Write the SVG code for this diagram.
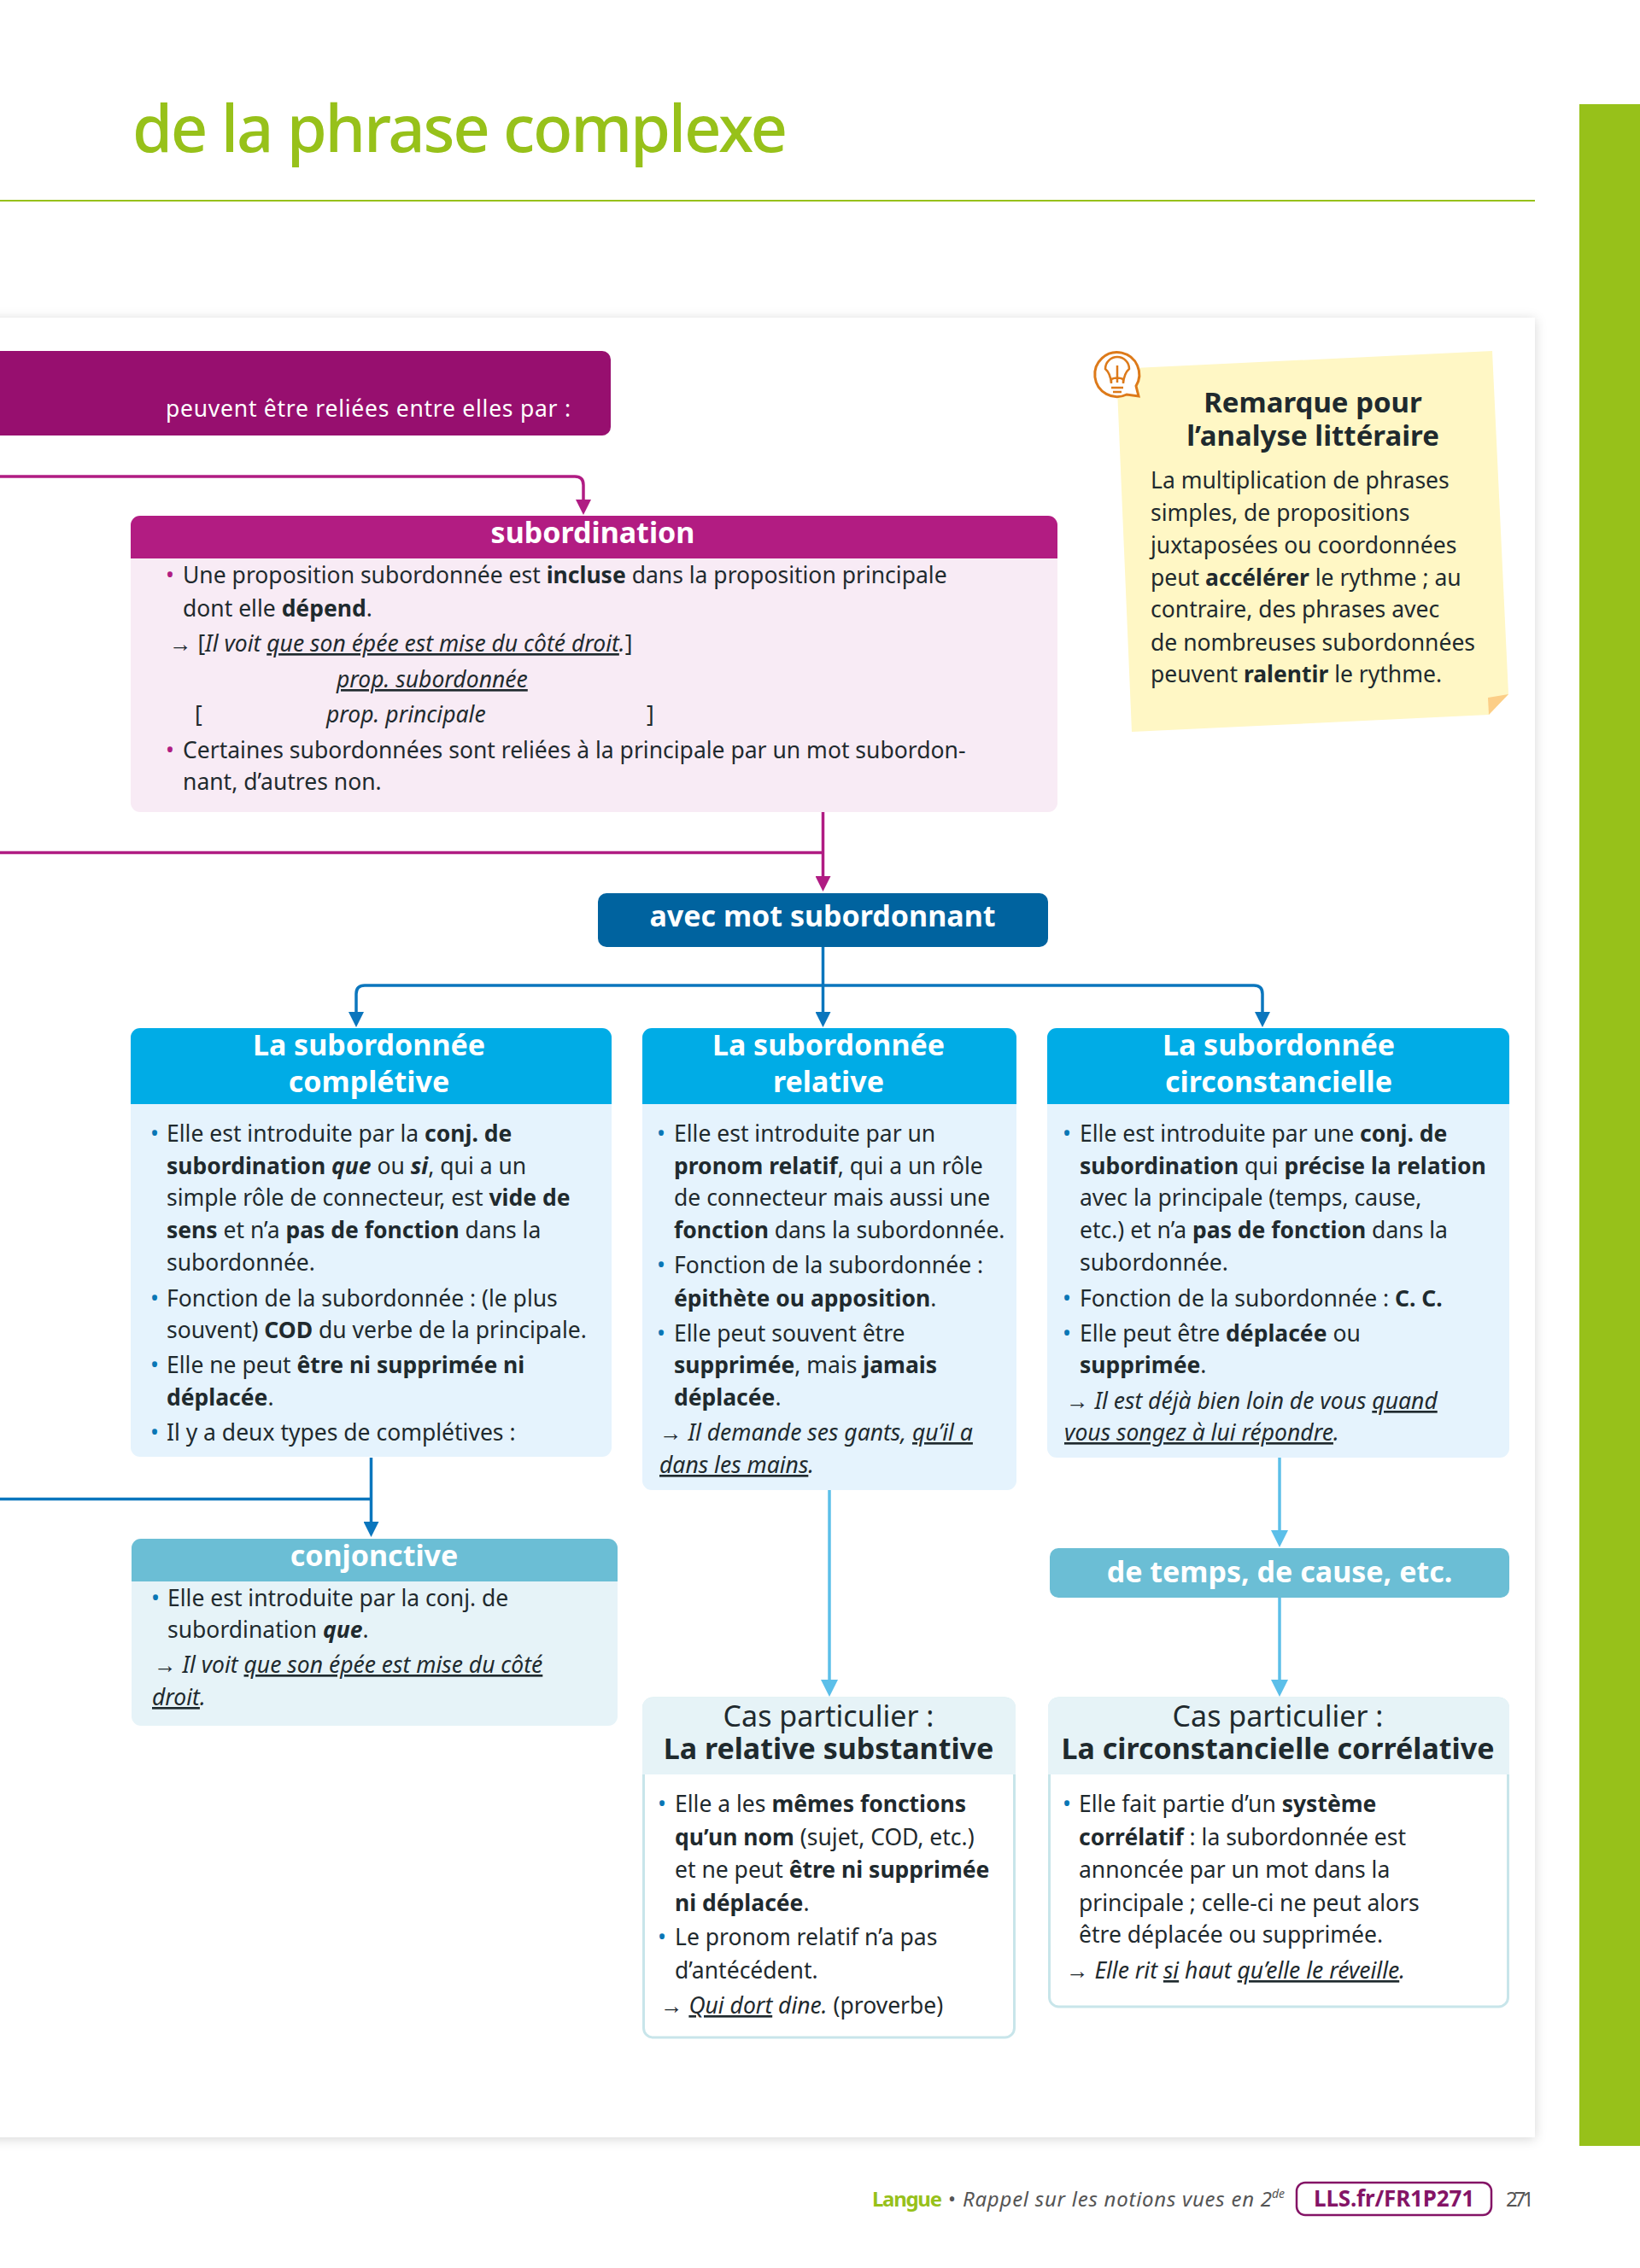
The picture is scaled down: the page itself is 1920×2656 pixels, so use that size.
<svg xmlns="http://www.w3.org/2000/svg" width="1920" height="2656" viewBox="0 0 1920 2656">
<style>
text{font-family:"Noto Sans","Liberation Sans",sans-serif;font-size:26.5px;fill:#1f2a2e}
b,.s{font-weight:700}
.i{font-style:italic}
.u{text-decoration:underline}
.h{font-size:34px;font-weight:700;fill:#fff;text-anchor:middle}
.bp{fill:#b01c83}.bb{fill:#0a76b5}
.c{fill:none;stroke-width:3.5}
.cas{font-size:34px;text-anchor:middle}
</style>
<defs>
<filter id="sh" x="-5%" y="-5%" width="110%" height="110%"><feDropShadow dx="0" dy="2" stdDeviation="7" flood-color="#000" flood-opacity=".16"/></filter>
<marker id="am" markerUnits="userSpaceOnUse" markerWidth="18" markerHeight="18" refX="1" refY="9" orient="auto"><path d="M0 0L18 9L0 18z" fill="#b01c83"/></marker>
<marker id="ab" markerUnits="userSpaceOnUse" markerWidth="18" markerHeight="18" refX="1" refY="9" orient="auto"><path d="M0 0L18 9L0 18z" fill="#0b76bd"/></marker>
<marker id="al" markerUnits="userSpaceOnUse" markerWidth="20" markerHeight="20" refX="1" refY="10" orient="auto"><path d="M0 0L20 10L0 20z" fill="#5cbfe9"/></marker>
</defs>
<rect width="1920" height="2656" fill="#fff"/>
<rect x="1849" y="122" width="71" height="2391" fill="#97c11a"/>
<text x="155" y="178" style="font-size:76px;fill:#97c11a;font-weight:500" textLength="767">de la phrase complexe</text>
<rect x="0" y="234" width="1797" height="2" fill="#97c11a"/>
<rect x="-30" y="372" width="1827" height="2131" fill="#fff" filter="url(#sh)"/>

<g id="connectors">
<path class="c" stroke="#b01c83" d="M0 558H673Q683 558 683 568V586" marker-end="url(#am)"/>
<path class="c" stroke="#b01c83" d="M0 998.500H963.500"/>
<path class="c" stroke="#b01c83" d="M963.500 951V1027" marker-end="url(#am)"/>
<path class="c" stroke="#0b76bd" d="M963.500 1109V1186" marker-end="url(#ab)"/>
<path class="c" stroke="#0b76bd" d="M963.500 1154H427Q417 1154 417 1164V1186" marker-end="url(#ab)"/>
<path class="c" stroke="#0b76bd" d="M963.500 1154H1468Q1478 1154 1478 1164V1186" marker-end="url(#ab)"/>
<path class="c" stroke="#0b76bd" d="M434.500 1707V1783" marker-end="url(#ab)"/>
<path class="c" stroke="#0b76bd" d="M0 1755.500H434"/>
<path class="c" stroke="#5cbfe9" d="M971 1745V1968" marker-end="url(#al)"/>
<path class="c" stroke="#5cbfe9" d="M1498 1707V1793" marker-end="url(#al)"/>
<path class="c" stroke="#5cbfe9" d="M1498 1871V1968" marker-end="url(#al)"/>
</g>

<g id="relier">
<path d="M-10 411H705a10 10 0 0 1 10 10V500a10 10 0 0 1-10 10H-10z" fill="#970f6f"/>
<text x="194" y="488" style="fill:#fff" textLength="474">peuvent être reliées entre elles par :</text>
</g>

<g id="subordination">
<rect x="153" y="604" width="1085" height="347" rx="11" fill="#f8ebf5"/>
<path d="M153 654V615a11 11 0 0 1 11-11H1227a11 11 0 0 1 11 11V654z" fill="#b21c82"/>
<text class="h" x="694" y="636">subordination</text>
<text class="bp" x="194" y="683">•</text>
<text x="214" y="683">Une proposition subordonnée est <tspan class="s">incluse</tspan> dans la proposition principale</text>
<text x="214" y="722">dont elle <tspan class="s">dépend</tspan>.</text>
<text x="198" y="763">→ [<tspan class="i">Il voit <tspan class="u">que son épée est mise du côté droit</tspan>.</tspan>]</text>
<text x="394" y="805" class="i u">prop. subordonnée</text>
<text x="228" y="846">[</text>
<text x="382" y="846" class="i">prop. principale</text>
<text x="757" y="846">]</text>
<text class="bp" x="194" y="888">•</text>
<text x="214" y="888">Certaines subordonnées sont reliées à la principale par un mot subordon-</text>
<text x="214" y="925">nant, d’autres non.</text>
</g>

<g id="mot">
<rect x="700" y="1046" width="527" height="63" rx="10" fill="#00639f"/>
<text class="h" x="963" y="1085">avec mot subordonnant</text>
</g>

<g id="completive">
<rect x="153" y="1204" width="563" height="502" rx="11" fill="#e5f3fd"/>
<path d="M153 1293V1215a11 11 0 0 1 11-11H705a11 11 0 0 1 11 11V1293z" fill="#00ace6"/>
<text class="h" x="432" y="1236">La subordonnée</text>
<text class="h" x="432" y="1279">complétive</text>
<text class="bb" x="176" y="1337">•</text><text x="195" y="1337">Elle est introduite par la <tspan class="s">conj. de</tspan></text>
<text x="195" y="1375"><tspan class="s">subordination <tspan class="i">que</tspan></tspan> ou <tspan class="s i">si</tspan>, qui a un</text>
<text x="195" y="1412">simple rôle de connecteur, est <tspan class="s">vide de</tspan></text>
<text x="195" y="1450"><tspan class="s">sens</tspan> et n’a <tspan class="s">pas de fonction</tspan> dans la</text>
<text x="195" y="1488">subordonnée.</text>
<text class="bb" x="176" y="1530">•</text><text x="195" y="1530">Fonction de la subordonnée : (le plus</text>
<text x="195" y="1567">souvent) <tspan class="s">COD</tspan> du verbe de la principale.</text>
<text class="bb" x="176" y="1608">•</text><text x="195" y="1608">Elle ne peut <tspan class="s">être ni supprimée ni</tspan></text>
<text x="195" y="1646"><tspan class="s">déplacée</tspan>.</text>
<text class="bb" x="176" y="1687">•</text><text x="195" y="1687">Il y a deux types de complétives :</text>
</g>

<g id="relative">
<rect x="752" y="1204" width="438" height="541" rx="11" fill="#e5f3fd"/>
<path d="M752 1293V1215a11 11 0 0 1 11-11H1179a11 11 0 0 1 11 11V1293z" fill="#00ace6"/>
<text class="h" x="970" y="1236">La subordonnée</text>
<text class="h" x="970" y="1279">relative</text>
<text class="bb" x="769" y="1337">•</text><text x="789" y="1337">Elle est introduite par un</text>
<text x="789" y="1375"><tspan class="s">pronom relatif</tspan>, qui a un rôle</text>
<text x="789" y="1412">de connecteur mais aussi une</text>
<text x="789" y="1450"><tspan class="s">fonction</tspan> dans la subordonnée.</text>
<text class="bb" x="769" y="1491">•</text><text x="789" y="1491">Fonction de la subordonnée :</text>
<text x="789" y="1530"><tspan class="s">épithète ou apposition</tspan>.</text>
<text class="bb" x="769" y="1571">•</text><text x="789" y="1571">Elle peut souvent être</text>
<text x="789" y="1608"><tspan class="s">supprimée</tspan>, mais <tspan class="s">jamais</tspan></text>
<text x="789" y="1646"><tspan class="s">déplacée</tspan>.</text>
<text x="772" y="1687">→ <tspan class="i">Il demande ses gants, <tspan class="u">qu’il a</tspan></tspan></text>
<text x="772" y="1725" class="i"><tspan class="u">dans les mains</tspan>.</text>
</g>

<g id="circonstancielle">
<rect x="1226" y="1204" width="541" height="503" rx="11" fill="#e5f3fd"/>
<path d="M1226 1293V1215a11 11 0 0 1 11-11H1756a11 11 0 0 1 11 11V1293z" fill="#00ace6"/>
<text class="h" x="1497" y="1236">La subordonnée</text>
<text class="h" x="1497" y="1279">circonstancielle</text>
<text class="bb" x="1244" y="1337">•</text><text x="1264" y="1337">Elle est introduite par une <tspan class="s">conj. de</tspan></text>
<text x="1264" y="1375"><tspan class="s">subordination</tspan> qui <tspan class="s">précise la relation</tspan></text>
<text x="1264" y="1412">avec la principale (temps, cause,</text>
<text x="1264" y="1450">etc.) et n’a <tspan class="s">pas de fonction</tspan> dans la</text>
<text x="1264" y="1488">subordonnée.</text>
<text class="bb" x="1244" y="1530">•</text><text x="1264" y="1530">Fonction de la subordonnée : <tspan class="s">C. C.</tspan></text>
<text class="bb" x="1244" y="1571">•</text><text x="1264" y="1571">Elle peut être <tspan class="s">déplacée</tspan> ou</text>
<text x="1264" y="1608"><tspan class="s">supprimée</tspan>.</text>
<text x="1248" y="1650">→ <tspan class="i">Il est déjà bien loin de vous <tspan class="u">quand</tspan></tspan></text>
<text x="1246" y="1687" class="i"><tspan class="u">vous songez à lui répondre</tspan>.</text>
</g>

<g id="conjonctive">
<rect x="154" y="1802" width="569" height="219" rx="11" fill="#e6f3f8"/>
<path d="M154 1852V1813a11 11 0 0 1 11-11H712a11 11 0 0 1 11 11V1852z" fill="#6bbed5"/>
<text class="h" x="438" y="1834">conjonctive</text>
<text class="bb" x="177" y="1881">•</text><text x="196" y="1881">Elle est introduite par la conj. de</text>
<text x="196" y="1918">subordination <tspan class="s i">que</tspan>.</text>
<text x="180" y="1959">→ <tspan class="i">Il voit <tspan class="u">que son épée est mise du côté</tspan></tspan></text>
<text x="178" y="1997" class="i"><tspan class="u">droit</tspan>.</text>
</g>

<g id="temps">
<rect x="1229" y="1813" width="538" height="58" rx="10" fill="#6bbed5"/>
<text class="h" x="1498" y="1853">de temps, de cause, etc.</text>
</g>

<g id="substantive">
<rect x="753.500" y="1989" width="434" height="397" rx="11" fill="#fff" stroke="#c8e5ea" stroke-width="3"/>
<path d="M752 2078V1999a11 11 0 0 1 11-11H1178a11 11 0 0 1 11 11V2078z" fill="#e6f3f7"/>
<text class="cas" x="970" y="2022">Cas particulier :</text>
<text class="cas s" x="970" y="2060">La relative substantive</text>
<text class="bb" x="770" y="2122">•</text><text x="790" y="2122"><tspan>Elle a les </tspan><tspan class="s">mêmes fonctions</tspan></text>
<text x="790" y="2161"><tspan class="s">qu’un nom</tspan> (sujet, COD, etc.)</text>
<text x="790" y="2199">et ne peut <tspan class="s">être ni supprimée</tspan></text>
<text x="790" y="2238"><tspan class="s">ni déplacée</tspan>.</text>
<text class="bb" x="770" y="2278">•</text><text x="790" y="2278">Le pronom relatif n’a pas</text>
<text x="790" y="2317">d’antécédent.</text>
<text x="773" y="2358">→ <tspan class="i"><tspan class="u">Qui dort</tspan> dine.</tspan> (proverbe)</text>
</g>

<g id="correlative">
<rect x="1228.500" y="1989" width="537" height="361" rx="11" fill="#fff" stroke="#c8e5ea" stroke-width="3"/>
<path d="M1227 2078V1999a11 11 0 0 1 11-11H1756a11 11 0 0 1 11 11V2078z" fill="#e6f3f7"/>
<text class="cas" x="1496" y="2022">Cas particulier :</text>
<text class="cas s" x="1496" y="2060">La circonstancielle corrélative</text>
<text class="bb" x="1244" y="2122">•</text><text x="1263" y="2122">Elle fait partie d’un <tspan class="s">système</tspan></text>
<text x="1263" y="2161"><tspan class="s">corrélatif</tspan> : la subordonnée est</text>
<text x="1263" y="2199">annoncée par un mot dans la</text>
<text x="1263" y="2238">principale ; celle-ci ne peut alors</text>
<text x="1263" y="2275">être déplacée ou supprimée.</text>
<text x="1248" y="2317">→ <tspan class="i">Elle rit <tspan class="u">si</tspan> haut <tspan class="u">qu’elle le réveille</tspan>.</tspan></text>
</g>

<g id="remarque">
<path d="M1307 432L1747 411L1766 813L1743 837L1325 857z" fill="#fff7c5"/>
<path d="M1742 817L1766 813L1743 837z" fill="#fcce87"/>
<path d="M1330 452A26 26 0 1 0 1319 462L1333 464z" fill="#fff" stroke="#dd7a1a" stroke-width="3"/>
<path d="M1301 449V444Q1308 441 1315 444V449Q1316 437 1322 432A14 14 0 1 0 1294 432Q1300 437 1301 449zM1301 454H1315M1303 459H1313M1308 448V428" fill="none" stroke="#dd7a1a" stroke-width="2.500"/>
<text x="1537" y="483" style="font-size:33px;font-weight:700;text-anchor:middle">Remarque pour</text>
<text x="1537" y="522" style="font-size:33px;font-weight:700;text-anchor:middle">l’analyse littéraire</text>
<text x="1347" y="572">La multiplication de phrases</text>
<text x="1347" y="610">simples, de propositions</text>
<text x="1347" y="648">juxtaposées ou coordonnées</text>
<text x="1347" y="686">peut <tspan class="s">accélérer</tspan> le rythme ; au</text>
<text x="1347" y="723">contraire, des phrases avec</text>
<text x="1347" y="762">de nombreuses subordonnées</text>
<text x="1347" y="799">peuvent <tspan class="s">ralentir</tspan> le rythme.</text>
</g>

<g id="footer">
<text x="1021" y="2584" style="font-size:24px;font-weight:700;fill:#97c11a" textLength="82">Langue</text>
<text x="1110" y="2584" style="font-size:24px;fill:#555">•</text>
<text x="1127" y="2584" style="font-size:24px;font-style:italic;fill:#555" textLength="362">Rappel sur les notions vues en 2</text>
<text x="1489" y="2574" style="font-size:14px;font-style:italic;fill:#555">de</text>
<rect x="1518" y="2556" width="228" height="38" rx="10" fill="#fff" stroke="#841466" stroke-width="2.500"/>
<text x="1632" y="2584" style="font-size:26px;font-weight:700;fill:#841466;text-anchor:middle" textLength="188">LLS.fr/FR1P271</text>
<text x="1763" y="2584" style="font-size:24px;fill:#555" textLength="33">271</text>
</g>
</svg>
